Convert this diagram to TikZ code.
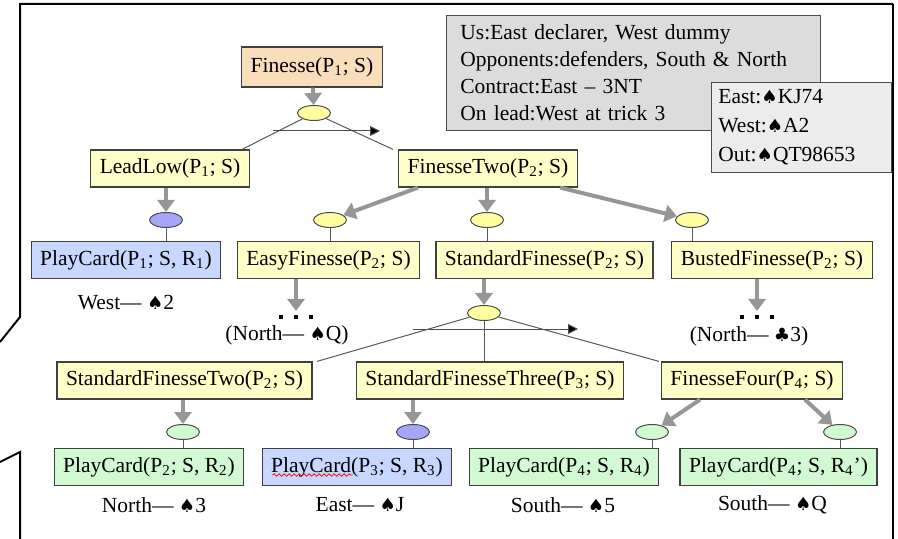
\documentclass[tikz,border=0pt]{standalone}
\usepackage{fontspec}
\setmainfont{Liberation Serif}
\newfontfamily\suitfont[Scale=0.85]{DejaVu Sans}
\usetikzlibrary{arrows.meta,shapes.geometric,calc,decorations.pathmorphing}
\newcommand{\spd}{{\suitfont ♠}}
\newcommand{\clb}{{\suitfont ♣}}
\newcommand{\trickdots}{\rule{1.6pt}{1.6pt}\hspace{5.9pt}\rule{1.6pt}{1.6pt}\hspace{5.9pt}\rule{1.6pt}{1.6pt}}
\definecolor{rootorange}{RGB}{250,221,187}
\definecolor{methodyellow}{RGB}{255,255,200}
\definecolor{choiceyellow}{RGB}{255,255,160}
\definecolor{primblue}{RGB}{200,215,255}
\definecolor{choiceblue}{RGB}{165,165,250}
\definecolor{primgreen}{RGB}{210,250,210}
\definecolor{choicegreen}{RGB}{210,250,210}
\definecolor{infogray}{RGB}{220,220,220}
\definecolor{handgray}{RGB}{236,236,236}
\definecolor{arrowgray}{RGB}{150,150,150}
\begin{document}
\begin{tikzpicture}[x=0.5pt, y=-0.5pt,
    font=\fontsize{10.75}{13.5}\selectfont,
    task/.style={draw=black!75, line width=0.6pt, minimum height=18.5pt, inner xsep=4.5pt, inner ysep=0pt},
    method/.style={task, fill=methodyellow},
    prim/.style={task, fill=primblue},
    choice/.style={ellipse, draw=black!70, line width=0.5pt, minimum width=16.5pt, minimum height=7.5pt, inner sep=0pt},
    trick/.style={inner sep=2pt},
    garrow/.style={draw=arrowgray, line width=2pt, -{Triangle[width=8.5pt,length=6pt]}},
    seqarrow/.style={draw=black!70, line width=0.5pt, -{Triangle[width=5pt,length=5pt,fill=black]}},
    link/.style={draw=black!65, line width=0.5pt}]
  \useasboundingbox (0,0) rectangle (898,539);
  %% frame
  \draw[line width=1pt] (0,342) -- (20,317) -- (20,4) -- (893,4);
  \draw[line width=0.6pt] (893,4) -- (893,539);
  \draw[line width=1pt] (0,462) -- (20,452) -- (20,539);

  %% setting
  \node[anchor=north west, draw=black!70, fill=infogray, text width=173pt, inner xsep=7pt, minimum height=57.5pt, align=left] (info) at (446,15)
    {Us:East declarer, West dummy\\ Opponents:defenders, South \& North\\ Contract:East – 3NT\\ On lead:West at trick 3};
  \node[anchor=north west, draw=black!70, fill=handgray, text width=83pt, inner xsep=3.5pt, minimum height=45pt, align=left,
    font=\fontsize{10.75}{14.5}\selectfont] (hand) at (711,82)
    {East:\spd KJ74\\ West:\spd A2\\ Out:\spd QT98653};

  %% root
  \node[task, fill=rootorange, minimum height=20pt] (fin) at (312,67) {Finesse(P\textsubscript{1}; S)};
  \node[choice, fill=choiceyellow] (e0) at (314,113) {};
  \node[method] (ll) at (170,168.5) {LeadLow(P\textsubscript{1}; S)};
  \node[method] (ft) at (488,168.5) {FinesseTwo(P\textsubscript{2}; S)};
  \draw[garrow] (fin) -- (e0);
  \draw[link] (e0) -- ($(ll.north)+(72,0)$);
  \draw[link] (e0) -- ($(ft.north)+(-95,0)$);
  \coordinate (s0a) at (273,131);
  \coordinate (s0b) at (380,131);
  \draw[seqarrow] (s0a) -- (s0b);

  %% second level
  \node[choice, fill=choiceblue] (eb1) at (166,220) {};
  \node[choice, fill=choiceyellow] (e1) at (330,220) {};
  \node[choice, fill=choiceyellow] (e2) at (487,220) {};
  \node[choice, fill=choiceyellow] (e3) at (692,220) {};
  \node[prim] (pc1) at (126,260) {PlayCard(P\textsubscript{1}; S, R\textsubscript{1})};
  \node[method] (ef) at (328.5,260) {EasyFinesse(P\textsubscript{2}; S)};
  \node[method] (sf) at (544.5,260) {StandardFinesse(P\textsubscript{2}; S)};
  \node[method] (bf) at (772,260) {BustedFinesse(P\textsubscript{2}; S)};
  \draw[garrow] (eb1 |- ll.south) -- (eb1);
  \draw[garrow] ($(ft.south)+(-70,0)$) -- (e1);
  \draw[garrow] (e2 |- ft.south) -- (e2);
  \draw[garrow] ($(ft.south)+(72,0)$) -- (e3);
  \draw[link] (eb1) -- (eb1 |- pc1.north);
  \draw[link] (e1) -- (e1 |- ef.north);
  \draw[link] (e2) -- (e2 |- sf.north);
  \draw[link] (e3) -- (e3 |- bf.north);
  \node (lwest) at (126,303) {West— \spd2};
  \node[trick] (dA) at (296,317) {\trickdots};
  \node (lnq) at (287,335) {(North— \spd Q)};
  \node[trick] (dB) at (757,317) {\trickdots};
  \node (lnc) at (749,336) {(North— \clb3)};
  \draw[garrow] (dA |- ef.south) -- (dA);
  \draw[garrow] (dB |- bf.south) -- (dB);

  %% standard finesse
  \node[choice, fill=choiceyellow] (e4) at (484,313) {};
  \draw[garrow] (e4 |- sf.south) -- (e4);
  \coordinate (s1a) at (413,329);
  \coordinate (s1b) at (578,329);
  \draw[seqarrow] (s1a) -- (s1b);
  \node[method] (sf2) at (184.5,380.5) {StandardFinesseTwo(P\textsubscript{2}; S)};
  \node[method] (sf3) at (490,380.5) {StandardFinesseThree(P\textsubscript{3}; S)};
  \node[method] (ff) at (752,380.5) {FinesseFour(P\textsubscript{4}; S)};
  \draw[link] (e4) -- ($(sf2.north)+(132.5,0)$);
  \draw[link] (e4) -- (e4 |- sf3.north);
  \draw[link] (e4) -- ($(ff.north)+(-93,0)$);

  %% leaves
  \node[choice, fill=choicegreen] (g1) at (183,432) {};
  \node[choice, fill=choiceblue] (b2) at (413,432) {};
  \node[choice, fill=choicegreen] (g2) at (652,432) {};
  \node[choice, fill=choicegreen] (g3) at (840,432) {};
  \draw[garrow] (g1 |- sf2.south) -- (g1);
  \draw[garrow] (b2 |- sf3.south) -- (b2);
  \draw[garrow] ($(ff.south)+(-52,0)$) -- (g2);
  \draw[garrow] ($(ff.south)+(53,0)$) -- (g3);
  \node[prim, fill=primgreen] (pc2) at (149,467) {PlayCard(P\textsubscript{2}; S, R\textsubscript{2})};
  \node[prim] (pc3) at (357,467) {PlayCard(P\textsubscript{3}; S, R\textsubscript{3})};
  \node[prim, fill=primgreen] (pc4) at (564,467) {PlayCard(P\textsubscript{4}; S, R\textsubscript{4})};
  \node[prim, fill=primgreen] (pc5) at (778.5,467) {PlayCard(P\textsubscript{4}; S, R\textsubscript{4}’)};
  \draw[link] (g1) -- (g1 |- pc2.north);
  \draw[link] (b2) -- (b2 |- pc3.north);
  \draw[link] (g2) -- (g2 |- pc4.north);
  \draw[link] (g3) -- (g3 |- pc5.north);
  \draw[red, line width=0.4pt, decorate, decoration={snake, amplitude=0.6pt, segment length=2.5pt}]
    ($(pc3.west)+(11,8)$) -- ($(pc3.west)+(91,8)$);
  \node (lnorth) at (154,505) {North— \spd3};
  \node (least) at (360,505) {East— \spd J};
  \node (lsouth) at (563,505) {South— \spd5};
  \node (lsouthq) at (772.5,505) {South— \spd Q};
\end{tikzpicture}
\end{document}
